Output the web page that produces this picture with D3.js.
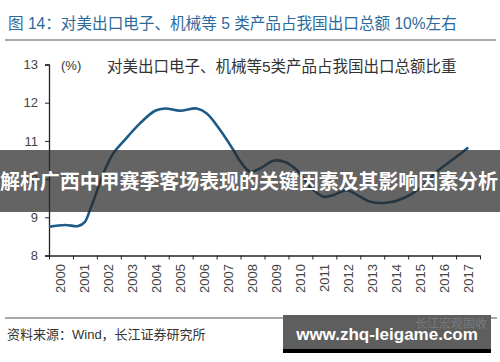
<!DOCTYPE html>
<html>
<head>
<meta charset="utf-8">
<script src="https://cdn.jsdelivr.net/npm/d3@7"></script>
<style>
  body { margin: 0; background: #fff; }
  svg { display: block; }
  text { font-family: "Liberation Sans", Arial, "Noto Sans CJK SC", sans-serif; }
</style>
</head>
<body>
<div class="svg-container"></div>
<script>
const title = '图 14：对美出口电子、机械等 5 类产品占我国出口总额 10%左右'
const seriesName = '对美出口电子、机械等5类产品占我国出口总额比重'
const unitLabel = '(%)'
const source = '资料来源：Wind，长江证券研究所'
const banner = '解析广西中甲赛季客场表现的关键因素及其影响因素分析'
const siteMark = 'www.zhq-leigame.com'

const years = d3.range(2000, 2018)
const yTicks = [8, 9, 10, 11, 12, 13]

// time (fractional year) and share of total exports
const times = [2000.0, 2000.67, 2001.22, 2001.5, 2001.71, 2001.92, 2002.27, 2002.69, 2003.1, 2003.8,
  2004.43, 2004.85, 2005.47, 2006.17, 2006.59, 2007.14, 2007.7, 2007.98, 2008.4, 2008.82,
  2009.37, 2009.79, 2010.35, 2010.9, 2011.46, 2011.87, 2012.43, 2012.99, 2013.41, 2014.1,
  2014.8, 2015.5, 2016.19, 2017.03, 2017.51]
const shares = [8.75, 8.8, 8.77, 8.88, 9.19, 9.54, 10.15, 10.68, 10.98, 11.46,
  11.79, 11.85, 11.79, 11.85, 11.72, 11.29, 10.76, 10.47, 10.19, 10.28,
  10.48, 10.46, 10.24, 9.8, 9.54, 9.58, 9.71, 9.54, 9.41, 9.38,
  9.5, 9.76, 10.19, 10.59, 10.83]

const svg = d3.select('.svg-container').append('svg')
  .attr('width', 500)
  .attr('height', 362)

const x = d3.scaleLinear().domain([2000, 2018]).range([49, 480])
const y = d3.scaleLinear().domain([8, 13]).range([255.5, 64.5])

// header
svg.append('text')
  .attr('x', 8).attr('y', 29)
  .style('font-size', '15.6px')
  .style('fill', '#2b6a9b')
  .text(title)

svg.append('line')
  .attr('x1', 5).attr('x2', 496)
  .attr('y1', 40).attr('y2', 40)
  .style('stroke', '#8c8c8c').style('stroke-width', 1.5)

// axes
const yAxis = svg.append('g')
  .attr('transform', 'translate(49,0)')
  .call(d3.axisLeft(y).tickValues(yTicks).tickSize(4).tickFormat(d3.format('d')))
yAxis.select('.domain').style('stroke', '#222').style('stroke-width', 1.3)
yAxis.selectAll('.tick line').style('stroke', '#222')
yAxis.selectAll('.tick text')
  .attr('x', -11)
  .style('font-size', '13px')
  .style('fill', '#444')
  .style('font-family', '"Liberation Sans", Arial, sans-serif')

const xAxis = svg.append('g')
  .attr('transform', 'translate(0,255.5)')
  .call(d3.axisBottom(x).tickValues(d3.range(2000, 2019)).tickSize(4).tickSizeOuter(0).tickFormat(''))
xAxis.select('.domain').style('stroke', '#222').style('stroke-width', 1.3)
xAxis.selectAll('.tick line').style('stroke', '#222')

svg.append('g').selectAll('text')
  .data(years)
  .enter()
  .append('text')
  .attr('transform', d => 'translate(' + (x(d + 0.5) + 4.5) + ',264) rotate(-90)')
  .attr('text-anchor', 'end')
  .style('font-size', '13px')
  .style('fill', '#444')
  .text(d => d)

svg.append('text')
  .attr('x', 61).attr('y', 70)
  .style('font-size', '13px')
  .style('fill', '#333')
  .text(unitLabel)

svg.append('text')
  .attr('x', 107).attr('y', 72)
  .style('font-size', '15.5px')
  .style('fill', '#333')
  .text(seriesName)

// series
const line = d3.line()
  .x(d => x(d[0]))
  .y(d => y(d[1]))
  .curve(d3.curveCatmullRom.alpha(0.5))

svg.append('path')
  .datum(times.map((t, i) => [t, shares[i]]))
  .attr('d', line)
  .style('fill', 'none')
  .style('stroke', '#1d5b86')
  .style('stroke-width', 2.6)

// footer
svg.append('line')
  .attr('x1', 5).attr('x2', 497)
  .attr('y1', 318).attr('y2', 318)
  .style('stroke', '#8c8c8c').style('stroke-width', 1.5)

svg.append('text')
  .attr('x', 7).attr('y', 339)
  .style('font-size', '13px')
  .style('fill', '#333')
  .text(source)

// overlays on the picture
svg.append('rect')
  .attr('x', 0).attr('y', 150).attr('width', 500).attr('height', 62)
  .style('fill', 'rgba(40,40,40,0.72)')

svg.append('text')
  .attr('x', 249).attr('y', 189)
  .attr('text-anchor', 'middle')
  .attr('textLength', 498)
  .style('font-size', '20px')
  .style('font-weight', 'bold')
  .style('fill', '#fff')
  .text(banner)

svg.append('rect')
  .attr('x', 283).attr('y', 315).attr('width', 208).attr('height', 34)
  .style('fill', '#5e5e5e')
svg.append('rect')
  .attr('x', 283).attr('y', 349).attr('width', 208).attr('height', 4)
  .style('fill', '#000')

svg.append('text')
  .attr('x', 415).attr('y', 328)
  .style('font-size', '12px')
  .style('fill', '#7a7a7a')
  .text('长江宏观固收')

svg.append('text')
  .attr('x', 387).attr('y', 340)
  .attr('text-anchor', 'middle')
  .style('font-size', '17px')
  .style('font-weight', 'bold')
  .style('fill', '#fff')
  .style('font-family', '"Liberation Sans", Arial, sans-serif')
  .text(siteMark)
</script>
</body>
</html>
